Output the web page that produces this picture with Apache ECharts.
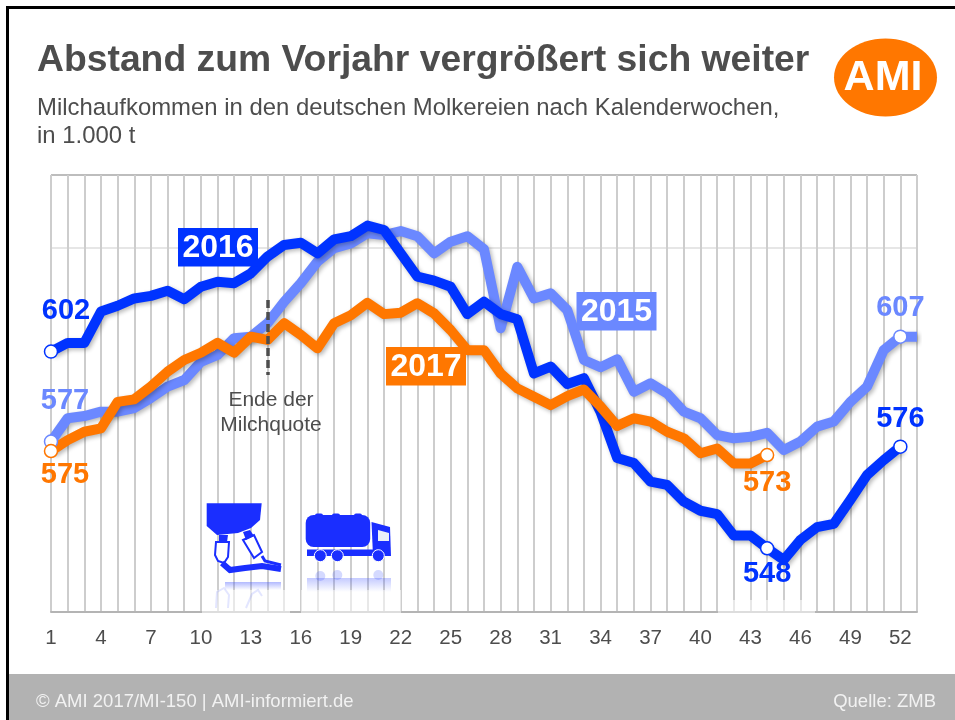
<!DOCTYPE html>
<html lang="de">
<head>
<meta charset="utf-8">
<title>Abstand zum Vorjahr vergrößert sich weiter</title>
<script src="https://cdn.jsdelivr.net/npm/echarts@6/dist/echarts.min.js"></script>
<style>html,body{margin:0;padding:0;background:#fff}#c{width:955px;height:720px}</style>
</head>
<body>
<div id="c"></div>
<script>
const weeks = ['1','2','3','4','5','6','7','8','9','10','11','12','13','14','15','16','17','18','19','20','21','22','23','24','25','26','27','28','29','30','31','32','33','34','35','36','37','38','39','40','41','42','43','44','45','46','47','48','49','50','51','52','53'];
const values2015 = [576.8,583.2,583.8,585.0,585.0,586.0,588.8,591.9,593.7,598.7,600.6,605.2,605.6,609.3,615.2,620.3,626.2,629.9,631.2,634.0,633.5,634.6,633.2,628.5,631.7,633.2,629.6,607.9,624.8,616.1,617.5,612.9,599.2,597.2,599.4,590.5,592.8,590.0,585.0,583.2,578.6,577.7,578.1,579.2,574.5,576.8,580.9,582.3,587.7,591.9,601.9,605.6,605.6];
const values2016 = [601.5,603.9,603.9,612.5,614.1,616.1,616.8,618.2,615.9,619.3,620.7,620.3,623.0,627.6,630.8,631.4,628.5,632.3,633.2,636.1,634.9,628.5,622.1,621.0,619.3,611.8,615.2,611.8,610.4,595.5,597.4,592.6,594.2,584.9,572.3,570.9,565.8,564.9,560.3,557.8,556.9,551.0,551.0,547.5,544.3,549.8,553.3,554.2,560.8,567.6,571.7,575.4];
const values2017 = [574.2,577.2,579.5,580.4,587.7,588.4,591.9,596.0,599.2,601.2,603.9,601.2,605.6,604.7,609.3,606.1,602.4,609.3,611.5,614.9,611.8,612.2,614.8,612.0,607.4,601.9,601.9,595.5,591.4,589.1,586.8,589.3,591.1,586.4,581.1,583.2,582.3,579.5,577.7,573.6,574.9,570.8,570.8,573.1];
const quotaEndWeek = '14';
const quotaMarkerRange = [615.7, 595.1];
const yTicks = {min: 530, max: 650, step: 20};

const C15 = '#6b88ff', C16 = '#0033ff', C17 = '#ff7700', TXT = '#4d4d4d';
const FONT = '"Liberation Sans", Arial, sans-serif';

function series(name, values, color, marks) {
  const data = values.map((v, i) => {
    const m = marks.find(k => k.week === i + 1);
    if (!m) return {value: v, symbol: 'none'};
    return {
      value: v, symbol: 'circle', symbolSize: 13,
      itemStyle: {color: '#fff', borderColor: color, borderWidth: 1.5},
      label: {show: true, position: 'inside', offset: m.offset, formatter: m.text,
        color: color, fontFamily: FONT, fontWeight: 'bold', fontSize: 29}
    };
  });
  return {
    name, type: 'line', data, showAllSymbol: true, smooth: false, silent: true,
    lineStyle: {color, width: 10, join: 'round', cap: 'butt', shadowColor: 'rgba(0,0,0,.28)', shadowBlur: 4, shadowOffsetX: 2, shadowOffsetY: 2},
    label: {show: false}
  };
}

const s15 = series('2015', values2015, C15, [
  {week: 1, text: '577', offset: [14, -41]},
  {week: 52, text: '607', offset: [0, -29]}
]);
const s16 = series('2016', values2016, C16, [
  {week: 1, text: '602', offset: [15, -41]},
  {week: 44, text: '548', offset: [0, 26]},
  {week: 52, text: '576', offset: [0, -28]}
]);
const s17 = series('2017', values2017, C17, [
  {week: 1, text: '575', offset: [14, 24]},
  {week: 44, text: '573', offset: [0, 28]}
]);
s17.markLine = {
  silent: true, symbol: 'none', animation: false, z: 6, label: {show: false},
  lineStyle: {color: '#4d4d4d', width: 3.5, type: [8, 4]},
  data: [[{xAxis: quotaEndWeek, yAxis: quotaMarkerRange[0]}, {xAxis: quotaEndWeek, yAxis: quotaMarkerRange[1]}]]
};

function txt(x, y, text, size, fill, opt) {
  return Object.assign({type: 'text', x, y, z: 60, silent: true,
    style: Object.assign({text, fill, fontFamily: FONT, fontSize: size, verticalAlign: 'middle'}, opt || {})});
}
function tag(x, y, text, color) {
  return [
    {type: 'rect', z: 55, silent: true, shape: {x, y, width: 80, height: 38.5}, style: {fill: color}},
    txt(x + 40, y + 20, text, 32, '#fff', {fontWeight: 'bold', align: 'center'})
  ];
}
function fade(x, y, w, h, op) {
  return {type: 'rect', z: 40, silent: true, shape: {x, y, width: w, height: h}, style: {fill: 'rgba(255,255,255,' + op + ')'}};
}
function icon(shape, type, style) {
  return {type, z: 45, silent: true, shape, style: Object.assign({fill: '#1a2eff'}, style || {})};
}
function reflect(x, y, w, h, a) {
  return {type: 'rect', z: 45, silent: true, shape: {x, y, width: w, height: h},
    style: {fill: new echarts.graphic.LinearGradient(0, 0, 0, 1, [
      {offset: 0, color: 'rgba(60,80,255,' + a + ')'}, {offset: 1, color: 'rgba(60,80,255,0)'}])}};
}
const ghost = {fill: 'rgba(60,80,255,.22)'};
const ghostLine = {fill: 'none', stroke: 'rgba(60,80,255,.14)', lineWidth: 2};

const graphics = [
  {type: 'rect', z: 70, silent: true, shape: {x: 6, y: 6, width: 949, height: 3}, style: {fill: '#000'}},
  {type: 'rect', z: 70, silent: true, shape: {x: 6, y: 6, width: 3, height: 714}, style: {fill: '#000'}},
  {type: 'rect', z: 50, silent: true, shape: {x: 9, y: 674, width: 946, height: 46}, style: {fill: '#b2b2b2'}},
  txt(37, 61, 'Abstand zum Vorjahr vergrößert sich weiter', 37.3, TXT, {fontWeight: 'bold'}),
  txt(37, 108, 'Milchaufkommen in den deutschen Molkereien nach Kalenderwochen,', 23.9, TXT),
  txt(37, 136, 'in 1.000 t', 23.9, TXT),
  {type: 'ellipse', z: 60, silent: true, shape: {cx: 885.5, cy: 77.5, rx: 51.5, ry: 39}, style: {fill: C17}},
  txt(883, 78.5, 'AMI', 43, '#fff', {fontWeight: 'bold', align: 'center'}),
  txt(271, 400, 'Ende der', 21, TXT, {align: 'center'}),
  txt(271, 425, 'Milchquote', 21, TXT, {align: 'center'}),
  txt(36, 702, '© AMI 2017/MI-150 | AMI-informiert.de', 18.5, '#f2f2f2', {}),
  txt(936, 702, 'Quelle: ZMB', 18.5, '#f2f2f2', {align: 'right'}),
  ...tag(178, 228, '2016', C16),
  ...tag(576.5, 292, '2015', C15),
  ...tag(386, 347, '2017', C17),
  fade(202, 590, 88, 25, 0.55), fade(301, 590, 100, 25, 0.55), fade(718, 600, 97, 15, 0.55),
  // milking cluster
  icon({points: [[206.7,503.3],[261.7,503.3],[260,520],[251,528],[238,533],[217,535],[206.7,526]]}, 'polygon'),
  icon({points: [[216,542],[229,542],[228,557],[224,563],[218,561],[215,555]]}, 'polygon', {fill: '#fff', stroke: '#1a2eff', lineWidth: 2}),
  icon({points: [[243,540],[254,535],[262,552],[254,558]]}, 'polygon', {fill: '#fff', stroke: '#1a2eff', lineWidth: 2}),
  icon({points: [[219,535],[228,535],[227,542],[219,542]]}, 'polygon'),
  icon({points: [[243,532],[250,530],[254,536],[246,540]]}, 'polygon'),
  icon({points: [[222,563],[230,570],[245,568],[262,566],[281,569]]}, 'polyline', {fill: 'none', stroke: '#1a2eff', lineWidth: 6}),
  icon({points: [[262,556],[265,561],[281,565]]}, 'polyline', {fill: 'none', stroke: '#1a2eff', lineWidth: 3}),
  reflect(225, 582, 56, 8, '.4'),
  icon({points: [[216,608],[217,592],[224,588],[229,595],[228,608]]}, 'polyline', ghostLine),
  icon({points: [[246,608],[252,594],[258,590],[262,596]]}, 'polyline', ghostLine),
  // tanker truck
  icon({x: 305.7, y: 515, width: 64.5, height: 32, r: 8}, 'rect'),
  icon({x: 315, y: 513.5, width: 8, height: 4, r: 2}, 'rect'),
  icon({x: 332, y: 513.5, width: 8, height: 4, r: 2}, 'rect'),
  icon({x: 354, y: 513.5, width: 8, height: 4, r: 2}, 'rect'),
  icon({points: [[371.5,522],[390,527],[391,556],[373,556]]}, 'polygon'),
  icon({points: [[378,530],[389,533],[389,541],[378,541]]}, 'polygon', {fill: '#e9eef8'}),
  icon({x: 307, y: 549.5, width: 70, height: 6.5}, 'rect'),
  icon({cx: 320.3, cy: 555.7, r: 6}, 'circle', {stroke: '#fff', lineWidth: 1}),
  icon({cx: 337.3, cy: 555.7, r: 6}, 'circle', {stroke: '#fff', lineWidth: 1}),
  icon({cx: 378.3, cy: 555.7, r: 6}, 'circle', {stroke: '#fff', lineWidth: 1}),
  icon({cx: 320.3, cy: 576, r: 5}, 'circle', ghost),
  icon({cx: 337.3, cy: 575, r: 5}, 'circle', ghost),
  icon({cx: 378.3, cy: 575, r: 5}, 'circle', ghost),
  reflect(307, 578, 84, 14, '.3')
];

const chart = echarts.init(document.getElementById('c'), null, {renderer: 'canvas'});
chart.setOption({
  animation: false,
  backgroundColor: '#fff',
  textStyle: {fontFamily: FONT},
  grid: {left: 51, right: 38, top: 175, bottom: 108},
  xAxis: {
    type: 'category', data: weeks, boundaryGap: false,
    axisLine: {show: true, lineStyle: {color: '#b4b4b4', width: 2}},
    axisTick: {show: false},
    axisLabel: {interval: i => i % 3 === 0 && i < 52, color: TXT, fontSize: 20.5, margin: 16, fontFamily: FONT},
    splitLine: {show: true, interval: 0, lineStyle: {color: '#cdcdcd', width: 2}}
  },
  yAxis: {
    type: 'value', min: yTicks.min, max: yTicks.max, interval: yTicks.step,
    axisLine: {show: false}, axisTick: {show: false}, axisLabel: {show: false},
    splitLine: {show: true, lineStyle: {width: 2, color: ['transparent', 'transparent', 'transparent', 'transparent', 'transparent', '#e6e6e6', '#bdbdbd']}}
  },
  series: [s15, s16, s17],
  graphic: {elements: graphics}
});
</script>
</body>
</html>
